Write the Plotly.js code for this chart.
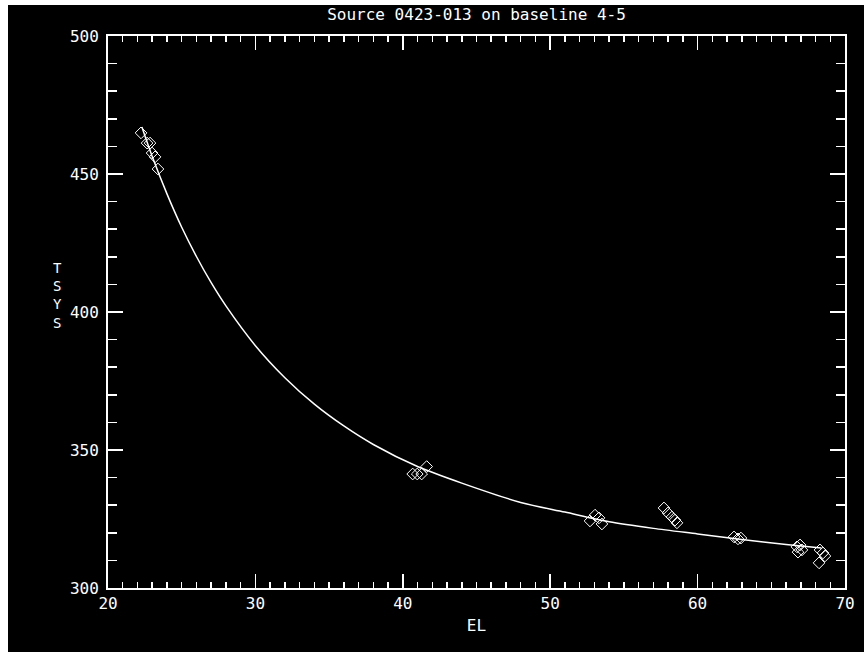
<!DOCTYPE html>
<html>
<head>
<meta charset="utf-8">
<script src="https://cdn.plot.ly/plotly-3.0.1.min.js"></script>
<style>
  html, body { margin: 0; padding: 0; background: #ffffff; width: 864px; height: 652px; overflow: hidden; }
  #chart { position: absolute; left: 8px; top: 5px; width: 856px; height: 647px; background: #000; }
</style>
</head>
<body>
<div id="chart"></div>
<script>
// Measured points (elevation in degrees, system temperature)
const elPts = [22.24, 22.65, 22.85, 22.99, 23.19, 23.39,
               40.67, 40.98, 41.28, 41.62,
               52.70, 53.04, 53.31, 53.51,
               57.72, 57.99, 58.26, 58.47, 58.60,
               62.47, 62.74, 62.94,
               66.74, 66.95, 66.81, 67.08,
               68.30, 68.51, 68.64, 68.24];
const tsysPts = [464.9, 461.2, 461.2, 457.6, 456.2, 451.8,
                 341.3, 341.3, 341.3, 344.0,
                 324.3, 326.4, 325.4, 323.2,
                 329.0, 327.2, 325.7, 324.6, 323.6,
                 318.5, 317.8, 318.1,
                 314.9, 315.6, 313.0, 313.8,
                 313.8, 312.7, 311.6, 309.1];
// Fitted curve
const fitEl = [22.3, 23, 24, 25, 26, 27, 28, 30, 32, 34, 36, 38, 41, 44, 48, 51, 54, 57, 60, 63, 66, 68.4];
const fitTsys = [467, 456.3, 442.8, 430.7, 420.1, 410.6, 402.2, 387.8, 376.2, 366.6, 358.7, 352, 344, 338, 331, 327.5, 324, 321.6, 319.6, 317.6, 315.8, 314.5];

const xTickVals = [20, 30, 40, 50, 60, 70];
const yTickVals = [300, 350, 400, 450, 500];
const titleText = "Source 0423-013 on baseline 4-5";
const xTitle = "EL";
const yTitleLetters = ["T", "S", "Y", "S"];

const FONT = '"DejaVu Sans Mono", "Liberation Mono", monospace';

const traces = [
  {
    x: fitEl, y: fitTsys, type: 'scatter', mode: 'lines',
    line: { color: '#ffffff', width: 1.5, shape: 'spline', smoothing: 0.8 },
    hoverinfo: 'skip', showlegend: false
  },
  {
    x: elPts, y: tsysPts, type: 'scatter', mode: 'markers',
    marker: { symbol: 'diamond-open', size: 9, color: '#ffffff', line: { color: '#ffffff', width: 1 } },
    showlegend: false
  }
];

// vertical stacked y-axis title
const annotations = [{
  text: yTitleLetters.join('<br>'), xref: 'paper', yref: 'paper', x: -0.069, y: 0.529,
  xanchor: 'center', yanchor: 'middle', showarrow: false,
  font: { family: FONT, size: 14, color: '#ffffff' }
}];

const axisCommon = {
  showgrid: false, zeroline: false,
  showline: true, linecolor: '#ffffff', linewidth: 2,
  ticks: 'inside', tickcolor: '#ffffff', tickwidth: 1.5,
  mirror: 'ticks',
  tickfont: { family: FONT, size: 16, color: '#ffffff' }
};

const layout = {
  width: 856, height: 647,
  paper_bgcolor: '#000000', plot_bgcolor: '#000000',
  margin: { l: 100, r: 19, t: 31, b: 64 },
  title: {
    text: titleText, x: 0.5, xref: 'paper', xanchor: 'center',
    y: 0.986, yref: 'container', yanchor: 'middle',
    font: { family: FONT, size: 16, color: '#ffffff' }
  },
  xaxis: Object.assign({}, axisCommon, {
    range: [20, 70], tickvals: xTickVals, ticklen: 14,
    minor: { dtick: 1, ticklen: 6, ticks: 'inside', tickcolor: '#ffffff', tickwidth: 1.5, showgrid: false },
    title: { text: xTitle, standoff: 8, font: { family: FONT, size: 16, color: '#ffffff' } }
  }),
  yaxis: Object.assign({}, axisCommon, {
    range: [300, 500], tickvals: yTickVals, ticklen: 15,
    ticklabelstandoff: 4,
    minor: { dtick: 10, ticklen: 9, ticks: 'inside', tickcolor: '#ffffff', tickwidth: 1.5, showgrid: false }
  }),
  annotations: annotations,
  showlegend: false
};

Plotly.newPlot('chart', traces, layout, { staticPlot: true, displayModeBar: false });
</script>
</body>
</html>
